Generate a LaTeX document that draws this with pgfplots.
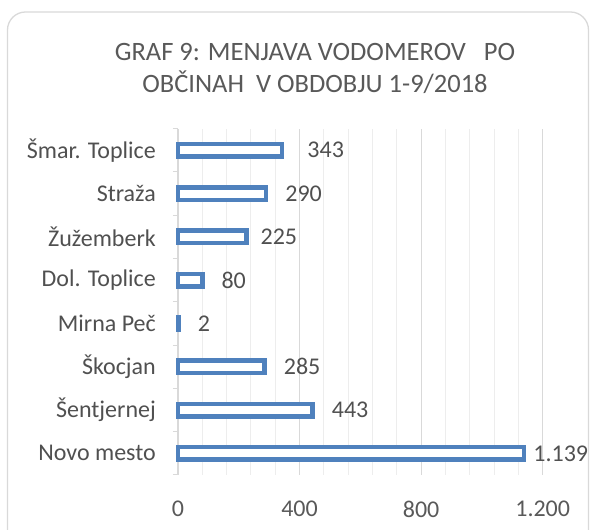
\documentclass[border=0pt]{standalone}
\usepackage{fontspec}
\setmainfont{Carlito}
\usepackage{pgfplots}
\usepackage{pgfplotstable}
\pgfplotsset{compat=1.18}
\definecolor{barblue}{HTML}{4F81BD}
\definecolor{txt}{HTML}{505050}
\definecolor{ttl}{HTML}{595959}
\definecolor{majgrid}{HTML}{D9D9D9}
\definecolor{mingrid}{HTML}{EDEDED}
\definecolor{framec}{HTML}{D9D9D9}
\pgfplotstableread{
y val off
0 1139 7
1 443 17
2 285 17
3 2 17
4 80 17
5 225 12
6 290 17
7 343 23
}\datatab
\begin{document}
\begin{tikzpicture}[x=1pt,y=1pt]
\path[use as bounding box] (0,0) rectangle (590,530);
\draw[framec, line width=1.3pt, rounded corners=18pt] (7.5,-30) rectangle (588.5,518);
\node[font=\fontsize{26.5}{32}\selectfont, text=ttl, align=center] at (315,462) {GRAF 9: MENJAVA VODOMEROV\ \ \ PO\\OBČINAH\ \ V OBDOBJU 1-9/2018};
\begin{axis}[
  at={(178pt,55pt)}, anchor=south west, scale only axis,
  width=364.7pt, height=346.4pt,
  xbar, bar width=12.5pt, clip=false,
  xmin=0, xmax=1200, ymin=-0.5, ymax=7.5,
  xtick={0,400,800,1200}, minor x tick num=4,
  xmajorgrids, xminorgrids,
  major grid style={majgrid, line width=0.9pt},
  minor grid style={mingrid, line width=0.9pt},
  axis x line*=bottom, x axis line style={draw=none},
  axis y line*=left, y axis line style={majgrid, line width=1pt},
  ytick={0,...,7},
  yticklabels={Novo mesto, Šentjernej, Škocjan, Mirna Peč, Dol. Toplice, Žužemberk, Straža, Šmar. Toplice},
  major tick length=0pt, minor tick length=0pt,
  extra y ticks={-0.5,0.5,1.5,2.5,3.5,4.5,5.5,6.5,7.5},
  extra y tick labels={},
  extra y tick style={major tick length=5pt, tick align=outside, tick style={majgrid, line width=1pt}},
  /pgf/number format/1000 sep={.},
  /pgf/number format/assume math mode=true,
  yticklabel style={font=\fontsize{24}{24}\selectfont, text=txt, inner sep=0pt, xshift=-22pt},
  xticklabel style={font=\fontsize{24}{24}\selectfont, text=ttl, inner sep=0pt, yshift=-26pt},
  nodes near coords,
  visualization depends on={\thisrow{off}\as\off},
  nodes near coords style={font=\fontsize{24}{24}\selectfont, text=txt, inner sep=0pt, anchor=west, xshift=\off pt, /pgf/number format/1000 sep={.}, /pgf/number format/assume math mode=true},
]
\addplot[draw=barblue, fill=white, line width=4.5pt] table[x=val, y=y] {\datatab};
\end{axis}
\end{tikzpicture}
\end{document}
